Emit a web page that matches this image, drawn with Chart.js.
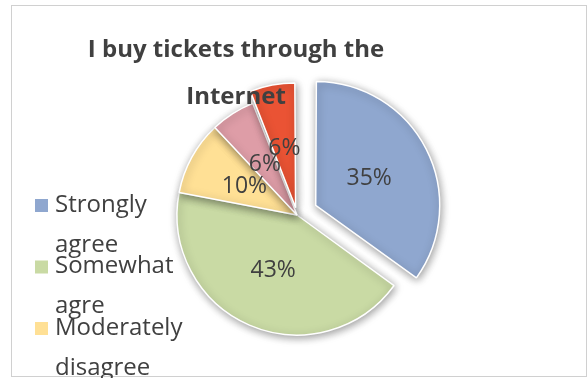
<!DOCTYPE html>
<html>
<head>
<meta charset="utf-8">
<script src="https://cdn.jsdelivr.net/npm/chart.js@4"></script>
<style>
    html, body { margin: 0; padding: 0; background: #fff; }
    #wrap { position: relative; width: 588px; height: 378px; }
</style>
</head>
<body>
<div id="wrap"><canvas id="pieChart" width="588" height="378"></canvas></div>
<script>
// 資料
const categories = ['Strongly agree', 'Somewhat agre', 'Moderately disagree', 'Somewhat disagree', 'Strongly disagree'];
const shares = [35, 43, 10, 6, 6];
const sliceColors = ['#8FA7CF', '#C9DAA4', '#FFE095', '#DE9DA7', '#EA5334'];
// 拉出距離 (px)，Chart.js 實際位移為 offset / 4
const slicePull = [21, 0, 0, 0, 7.5];
const titleLines = ['I buy tickets through the', 'Internet'];

const textColor = '#404040';
const fontFamily = '"Open Sans", "Noto Sans", sans-serif';

// 外框 + 陰影 + 百分比 + 標題 + 圖例
const decorPlugin = {
    id: 'decor',
    beforeDraw(chart) {
        const ctx = chart.ctx;
        ctx.save();
        ctx.strokeStyle = '#D0D0D0';
        ctx.lineWidth = 1;
        ctx.strokeRect(11.5, 5.5, 575, 371);
        ctx.restore();
    },
    beforeDatasetsDraw(chart) {
        const ctx = chart.ctx;
        ctx.save();
        ctx.shadowColor = 'rgba(0,0,0,0.4)';
        ctx.shadowBlur = 8;
        ctx.shadowOffsetX = 1;
        ctx.shadowOffsetY = 2;
    },
    afterDatasetsDraw(chart) {
        const ctx = chart.ctx;
        ctx.restore();
        const meta = chart.getDatasetMeta(0);
        ctx.save();
        ctx.fillStyle = textColor;
        ctx.font = '23px ' + fontFamily;
        ctx.textAlign = 'center';
        ctx.textBaseline = 'middle';
        meta.data.forEach((arc, i) => {
            const mid = (arc.startAngle + arc.endAngle) / 2;
            const cx = arc.x + Math.cos(mid) * slicePull[i];
            const cy = arc.y + Math.sin(mid) * slicePull[i];
            const r = arc.outerRadius * 0.5;
            ctx.fillText(shares[i] + '%', cx + Math.cos(mid) * r, cy + Math.sin(mid) * r);
        });
        ctx.restore();
    },
    afterDraw(chart) {
        const ctx = chart.ctx;
        ctx.save();
        // 標題
        ctx.fillStyle = textColor;
        ctx.font = 'bold 24px ' + fontFamily;
        ctx.textAlign = 'center';
        ctx.textBaseline = 'middle';
        titleLines.forEach((line, i) => {
            ctx.fillText(line, 236, 50 + i * 47);
        });
        // 圖例
        ctx.font = '24px ' + fontFamily;
        ctx.textAlign = 'left';
        categories.forEach((cat, i) => {
            const y = 205 + i * 61.5;
            const sp = cat.indexOf(' ');
            const lines = [cat.slice(0, sp), cat.slice(sp + 1)];
            ctx.fillStyle = sliceColors[i];
            ctx.fillRect(35, y - 6, 13, 13);
            ctx.fillStyle = textColor;
            lines.forEach((l, j) => ctx.fillText(l, 55, y + j * 40));
        });
        ctx.restore();
    }
};

new Chart(document.getElementById('pieChart'), {
    type: 'pie',
    data: {
        labels: categories,
        datasets: [{
            data: shares,
            backgroundColor: sliceColors,
            borderColor: '#ffffff',
            borderWidth: 1.5,
            offset: slicePull.map(p => p * 4),
            hoverOffset: 0
        }]
    },
    options: {
        responsive: false,
        animation: false,
        radius: 120,
        layout: {
            padding: { left: 160, right: 154, top: 84, bottom: 32 }
        },
        plugins: {
            legend: { display: false },
            tooltip: { enabled: false },
            title: { display: false }
        }
    },
    plugins: [decorPlugin]
});
</script>
</body>
</html>
